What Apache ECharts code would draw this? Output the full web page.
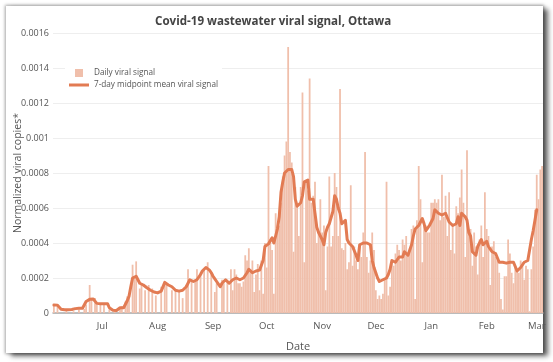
<!DOCTYPE html>
<html><head><meta charset="utf-8">
<script src="https://cdn.jsdelivr.net/npm/echarts@6/dist/echarts.min.js"></script>
<style>
html,body{margin:0;padding:0;background:#fff;width:553px;height:362px;overflow:hidden}
#frame{position:absolute;left:6px;top:6px;width:537px;height:347px;background:#fff;box-shadow:0 0 3px 1px rgba(0,0,0,0.35),5px 3px 5px rgba(0,0,0,0.6);}
#chart{position:absolute;left:0;top:0;width:553px;height:362px}
</style></head><body><div id="frame"></div><div id="chart"></div>
<script>
const firstDate = [2020, 5, 4]; // 2020-06-04
const monthNames = ['Jan','Feb','Mar','Apr','May','Jun','Jul','Aug','Sep','Oct','Nov','Dec'];

// Daily viral signal by month (null = no sample)
const dailyJun = [0.000048,null,0.000048,null,null,null,null,0.000019,null,null,null,0.00001,null,null,0.00002,null,null,0.000023,0.000048,null,0.00016,0.000076,null,0.000086,0.000048,null,0.000057];
const dailyJul = [null,0.000057,null,null,0.00002,null,null,0.00001,null,null,0.000028,0.000038,null,0.000066,0.000095,0.000105,null,0.000276,0.0002,0.000295,null,0.00014,0.00017,null,0.00013,null,0.00016,null,0.00014,null,0.0001];
const dailyAug = [null,null,0.00015,null,0.00016,0.00016,null,null,0.00013,null,0.00013,null,0.00012,null,0.000085,null,0.00016,0.00025,null,0.00018,null,0.00018,0.00025,null,0.00023,null,0.00025,null,0.00029,null,0.00022];
const dailySep = [null,0.00012,0.00017,null,null,0.00019,0.00017,null,0.00019,null,0.00025,0.00013,0.00025,0.00022,0.00017,0.00017,0.00015,0.00018,0.00033,0.0003,0.00037,0.00025,0.0003,0.00012,0.00022,0.00028,0.00013,0.0003,0.00011,0.0004];
const dailyOct = [0.00026,0.00084,0.00042,0.00036,0.00011,0.00057,0.0005,0.0005,0.00063,0.00078,0.0009,0.00098,0.00152,0.00092,0.00086,0.00035,0.00072,0.00061,0.00044,0.00072,0.00126,0.00029,0.00076,0.0007,0.00134,0.00063,0.00067,0.00075,0.0004,0.00046,0.00065];
const dailyNov = [0.00046,0.0005,0.00013,0.00038,0.00078,0.00038,0.00044,0.0008,0.00072,0.00044,0.00128,0.00037,0.00036,0.0004,0.00025,0.00029,0.00073,0.00027,0.00038,0.0003,0.00025,0.00038,0.00032,0.00046,0.00092,0.00032,0.00023,0.0003,0.00046,0.00036];
const dailyDec = [0.00013,0.00008,0.0001,0.00008,0.00011,0.00019,0.00075,0.0001,0.00015,0.0003,0.00027,0.00034,0.00039,0.00036,0.0003,0.00042,0.00039,0.00044,0.00034,0.00036,0.00048,0.0005,0.00008,0.00053,0.00084,0.00065,0.00029,0.00051,0.0005,0.00046,0.00046];
const dailyJan = [0.00063,0.00063,0.00065,0.00063,0.00065,0.00053,0.00079,0.00055,0.00067,0.00044,0.00069,0.00036,0.00051,0.00034,0.00061,0.00057,0.00066,0.00082,0.00063,0.00032,0.00093,0.00046,0.00048,0.00027,0.00046,0.00038,0.00022,0.00042,0.0005,0.00032,0.00069];
const dailyFeb = [0.00048,0.00044,0.00016,0.00038,0.00041,0.00032,0.0003,0.00023,0.00008,0.00002,0.00021,0.00021,0.00042,0.00034,0.00023,0.00017,0.00027,0.00025,0.00023,0.0003,0.00029,0.00019,0.00027,0.00025,0.00001,0.00025,0.00038,0.00059];
const dailyMar = [0.00079,0.00065,0.00082,0.00084];

// 7-day midpoint mean by month
const meanJun = [0.000046,0.000046,0.000045,0.000042,0.000022,0.000019,0.000019,0.000019,0.000019,0.000019,0.00002,0.00002,0.000025,0.000027,0.000027,0.000027,0.000027,0.000028,0.000066,0.000075,0.000078,0.00008,0.00008,0.000086,0.000055,0.000053,0.000053];
const meanJul = [0.000053,0.000053,0.000053,0.000053,0.00003,0.000025,0.000016,0.000014,0.000014,0.000022,0.00003,0.00003,0.00003,0.00005,0.00007,0.000095,0.00015,0.0002,0.000205,0.00021,0.00019,0.00017,0.00017,0.00016,0.00015,0.000144,0.00015,0.00013,0.00012,0.00012,0.00012];
const meanAug = [0.000115,0.00012,0.000125,0.00013,0.000175,0.000175,0.00016,0.000155,0.00015,0.00014,0.00013,0.00013,0.000125,0.000125,0.00013,0.00014,0.00015,0.00017,0.00019,0.000185,0.00018,0.000185,0.00019,0.0002,0.00022,0.00024,0.00025,0.00026,0.00026,0.000245,0.00023];
const meanSep = [0.00021,0.000195,0.00018,0.000165,0.00015,0.00017,0.00018,0.00019,0.00018,0.00017,0.00018,0.00019,0.000195,0.0002,0.000195,0.00019,0.00019,0.0002,0.00021,0.00023,0.00025,0.00024,0.00023,0.000235,0.00024,0.00024,0.000245,0.00025,0.0003,0.00038];
const meanOct = [0.00039,0.000395,0.0004,0.00043,0.0004,0.00044,0.00048,0.00055,0.00069,0.00075,0.0008,0.00081,0.00082,0.00082,0.00082,0.00078,0.00065,0.00061,0.0006,0.00063,0.00067,0.00075,0.00076,0.00076,0.00065,0.00065,0.00065,0.00057,0.00049,0.00046,0.00044];
const meanNov = [0.00042,0.00039,0.00046,0.00049,0.00051,0.0005,0.00058,0.00067,0.00065,0.0006,0.00057,0.00051,0.00052,0.00053,0.00042,0.0004,0.00039,0.00038,0.00037,0.00033,0.0003,0.00039,0.0004,0.0004,0.0004,0.0004,0.000395,0.00039,0.0003,0.00026];
const meanDec = [0.00023,0.0002,0.00018,0.000185,0.00019,0.000195,0.0002,0.00022,0.00025,0.0003,0.000295,0.00029,0.00029,0.00032,0.00032,0.00032,0.00035,0.00034,0.00033,0.00036,0.00039,0.00044,0.00048,0.00048,0.0005,0.00052,0.00054,0.00051,0.00047,0.000485,0.0005];
const meanJan = [0.00052,0.00054,0.00059,0.00058,0.00057,0.000565,0.00056,0.000565,0.00057,0.00057,0.00052,0.00051,0.0005,0.000505,0.00051,0.00055,0.0005,0.00057,0.00057,0.00055,0.00053,0.00046,0.00044,0.00035,0.00034,0.00033,0.00038,0.0004,0.00042,0.00039,0.0004];
const meanFeb = [0.00041,0.00038,0.000365,0.00035,0.000345,0.00034,0.00034,0.00029,0.00029,0.00029,0.00029,0.000285,0.00028,0.00029,0.0003,0.00029,0.00028,0.00024,0.00025,0.00026,0.00027,0.00029,0.000295,0.0003,0.00036,0.00042,0.00047,0.00053];
const meanMar = [0.00059,null,null,null];

const daily = [].concat(dailyJun,dailyJul,dailyAug,dailySep,dailyOct,dailyNov,dailyDec,dailyJan,dailyFeb,dailyMar);
const mean = [].concat(meanJun,meanJul,meanAug,meanSep,meanOct,meanNov,meanDec,meanJan,meanFeb,meanMar);

const dates = [];
for (let i = 0; i < daily.length; i++) {
  const d = new Date(Date.UTC(firstDate[0], firstDate[1], firstDate[2] + i));
  dates.push(d.toISOString().slice(0, 10));
}

const font = 'Open Sans';
const chart = echarts.init(document.getElementById('chart'));
chart.setOption({
  backgroundColor: 'transparent',
  animation: false,
  textStyle: { fontFamily: font },
  title: {
    text: 'Covid-19 wastewater viral signal, Ottawa',
    left: 150, top: 11,
    textStyle: { fontSize: 11.6, fontWeight: 'bold', color: '#444', fontFamily: font }
  },
  legend: {
    orient: 'vertical', left: 65, top: 67, itemGap: 4,
    itemWidth: 20, itemHeight: 8, itemSymbolKeepAspect: true, padding: [2, 4],
    backgroundColor: '#fff',
    textStyle: { fontSize: 8.2, color: '#555', fontFamily: font },
    data: [
      { name: 'Daily viral signal', icon: 'path://M0,0H10V10H0Z' },
      { name: '7-day midpoint mean viral signal', icon: 'path://M0,0H20V3H0Z' }
    ]
  },
  grid: { left: 53, right: 10, top: 33, bottom: 49, containLabel: false, outerBoundsMode: 'none' },
  xAxis: {
    type: 'category', data: dates, boundaryGap: true,
    name: 'Date', nameLocation: 'middle', nameGap: 28, nameMoveOverlap: false,
    nameTextStyle: { fontSize: 11, color: '#555', fontFamily: font },
    axisLine: { lineStyle: { color: '#aaa', width: 1.5 } },
    axisTick: { show: false },
    axisLabel: {
      interval: (i, v) => v.slice(8) === '01',
      formatter: v => monthNames[+v.slice(5, 7) - 1],
      fontSize: 9.5, color: '#555', margin: 8, fontFamily: font
    },
    splitLine: { show: false }
  },
  yAxis: {
    type: 'value', min: 0, max: 0.0016, interval: 0.0002,
    name: 'Normalized viral copies*', nameLocation: 'middle', nameGap: 29, nameMoveOverlap: false,
    nameTextStyle: { fontSize: 10.5, color: '#555', fontFamily: font },
    axisLine: { show: false }, axisTick: { show: false },
    axisLabel: { fontSize: 9, color: '#555', margin: 4, fontFamily: font },
    splitLine: { lineStyle: { color: '#eee', width: 1 } }
  },
  series: [
    {
      name: 'Daily viral signal', type: 'bar', data: daily,
      barCategoryGap: '0%', itemStyle: { color: '#f0bfab' }, z: 2
    },
    {
      name: '7-day midpoint mean viral signal', type: 'line', data: mean,
      symbol: 'none', connectNulls: false,
      lineStyle: { color: '#e27b53', width: 3, join: 'round', cap: 'round' },
      itemStyle: { color: '#e27b53' }, z: 3
    }
  ]
});
</script></body></html>
